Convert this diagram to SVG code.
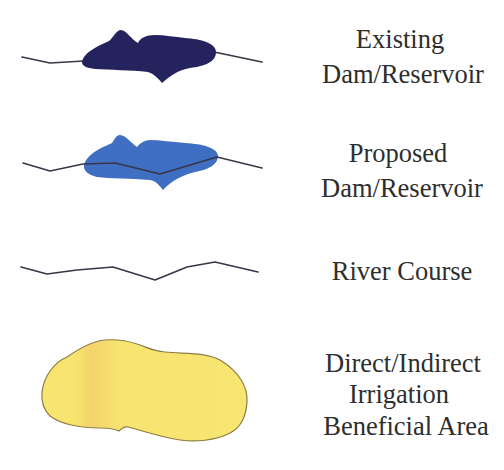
<svg xmlns="http://www.w3.org/2000/svg" width="504" height="470" viewBox="0 0 504 470">
<style>
.river{fill:none;stroke:#3a3548;stroke-width:1.6;stroke-linejoin:round;stroke-linecap:round}
.lbl{font-family:"Liberation Serif","Times New Roman",serif;font-size:26.5px;fill:#2e2e2e;text-anchor:middle}
</style>
<defs>
<linearGradient id="yel" x1="0" y1="0" x2="1" y2="0">
<stop offset="0" stop-color="#f8e672"/>
<stop offset="0.17" stop-color="#f8e36e"/>
<stop offset="0.24" stop-color="#f4d46c"/>
<stop offset="0.3" stop-color="#f5da6e"/>
<stop offset="0.38" stop-color="#f8e470"/>
<stop offset="1" stop-color="#f8e672"/>
</linearGradient>
</defs>
<rect width="504" height="470" fill="#ffffff"/>
<g id="existing">
<polyline class="river" points="22,57 50,63 84,61"/>
<polyline class="river" points="214,52 262,62"/>
<path d="M82,62 C84,52 98,46 109,41 C114,37 116,30 121,30 C126,30 132,40 138,43 C140,38 146,35 155,35 C165,35 175,37 185,38 C201,39 216,43 216,52 C216,62 205,66 190,68 C178,70 170,76 162,83 C158,78 154,74 148,72 C130,70 110,70 95,69 C87,68 82,66 82,62 Z" fill="#24235e"/>
<text class="lbl" x="400" y="48">Existing</text>
<text class="lbl" x="403" y="83">Dam/Reservoir</text>
</g>
<g id="proposed">
<path d="M84,165 C88,152 104,147 112,143 C115,139 116,135 120,135 C126,135 132,144 137,147 C140,143 145,140 150,140 C160,140 172,142 185,143 C203,144 218,148 218,156 C218,165 207,170 195,172 C183,175 172,180 163,190 C159,185 156,181 150,180 C130,178 110,179 97,177 C88,175 83,170 84,165 Z" fill="#3f6fc2"/>
<polyline class="river" points="23,163 50,171 83,164 115,163 160,174 217,157 262,168"/>
<text class="lbl" x="398" y="162">Proposed</text>
<text class="lbl" x="402" y="197">Dam/Reservoir</text>
</g>
<g id="river">
<polyline class="river" points="21,267 47,274 77,270 113,267 155,280 187,267 215,262 258,272"/>
<text class="lbl" x="402" y="280">River Course</text>
</g>
<g id="irrigation">
<path d="M42,392 C44,375 55,362 67,357 C80,348 92,341 105,340 C118,339 128,341 137,344 C147,347 152,351 165,352 C185,354 205,352 220,360 C240,372 248,388 247,402 C246,418 240,428 230,433 C215,441 195,442 180,440 C160,437 140,430 128,427 C124,426 121,429 119,431 C115,429 112,428 100,428 C80,428 60,424 50,416 C44,410 41,402 42,392 Z" fill="url(#yel)" stroke="#8c7d45" stroke-width="1.2"/>
<text class="lbl" x="403" y="372">Direct/Indirect</text>
<text class="lbl" x="399" y="403">Irrigation</text>
<text class="lbl" x="406" y="435">Beneficial Area</text>
</g>
</svg>
